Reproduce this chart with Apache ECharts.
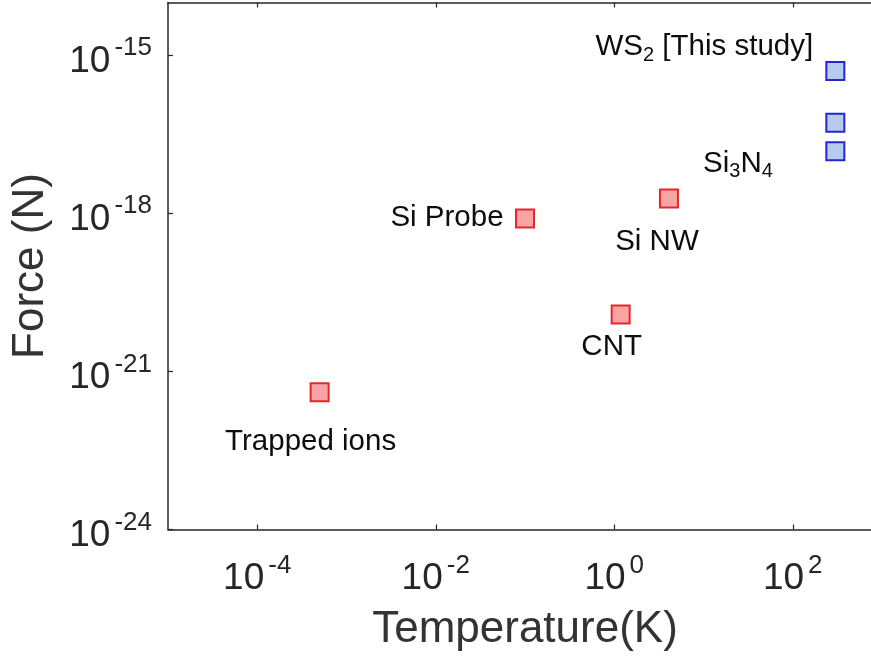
<!DOCTYPE html>
<html>
<head>
<meta charset="utf-8">
<script src="https://cdn.jsdelivr.net/npm/echarts@6/dist/echarts.min.js"></script>
<style>
  html, body { margin: 0; padding: 0; background: #fff; }
  #chart { width: 871px; height: 657px; }
</style>
</head>
<body>
<div id="chart"></div>
<script>
// Reference force sensors: temperature (K) and force (N)
const refNames = ['Trapped ions', 'Si Probe', 'CNT', 'Si NW'];
const refTemperature = [5e-4, 0.1, 1.18, 4.1];
const refForce = [4e-22, 8e-19, 1.2e-20, 1.9e-18];

// WS2 resonators, room temperature
const ws2Temperature = [300, 300, 300];
const ws2Force = [5e-16, 5.2e-17, 1.5e-17];

// Labelled decades (powers of ten) on each axis
const xTickExponents = [-4, -2, 0, 2];
const yTickExponents = [-24, -21, -18, -15];

const FONT = '"Liberation Sans", Arial, Helvetica, sans-serif';
const AXIS_COLOR = '#262626';
const TEXT_COLOR = '#0d0d0d';

// Text annotations placed next to the markers
const annotations = [
  { text: refNames[0], at: [refTemperature[0], refForce[0]], offset: [-9, 49] },
  { text: refNames[1], at: [refTemperature[1], refForce[1]], offset: [-78, -1] },
  { text: refNames[2], at: [refTemperature[2], refForce[2]], offset: [-9, 32] },
  { text: refNames[3], at: [refTemperature[3], refForce[3]], offset: [-12, 43] },
  { text: 'Si{sub|3}N{sub|4}', at: [refTemperature[3], refForce[3]], offset: [69, -35] },
  { text: 'WS{sub|2} [This study]', at: [ws2Temperature[0], ws2Force[0]], offset: [-131, -24] }
];

function exponentOf(v) {
  return Math.round(Math.log10(v));
}

function powerLabel(e) {
  const s = e < 0 ? '-' + (-e) : String(e);
  return '{b|10}{s|' + s + '}';
}

const tickRich = {
  b: { fontSize: 37, lineHeight: 54, verticalAlign: 'bottom', color: AXIS_COLOR, fontFamily: FONT },
  s: { fontSize: 26, lineHeight: 26, verticalAlign: 'top', padding: [9, 0, 0, 4], color: AXIS_COLOR, fontFamily: FONT }
};

const xTickValues = xTickExponents.map(e => Math.pow(10, e));
const yTickValues = yTickExponents.map(e => Math.pow(10, e));

function xAxisBase(position) {
  return {
    type: 'log',
    logBase: 10,
    position: position,
    min: 1e-5,
    max: 1e3,
    interval: 1,
    axisLine: { show: true, onZero: false, lineStyle: { color: AXIS_COLOR, width: 1.5 } },
    axisTick: { show: true, inside: true, length: 5, customValues: xTickValues,
      lineStyle: { color: AXIS_COLOR, width: 1.2 } },
    splitLine: { show: false },
    minorTick: { show: false },
    minorSplitLine: { show: false }
  };
}

const chart = echarts.init(document.getElementById('chart'), null, { renderer: 'canvas' });

const option = {
  backgroundColor: '#ffffff',
  animation: false,
  grid: {
    left: 168,
    top: 2.5,
    right: -11,
    bottom: 127.5,
    containLabel: false,
    outerBoundsMode: 'none'
  },
  xAxis: [
    Object.assign(xAxisBase('bottom'), {
      name: 'Temperature(K)',
      nameLocation: 'middle',
      nameGap: 78,
      nameTextStyle: { fontSize: 44, color: '#333', fontFamily: FONT },
      axisLabel: {
        show: true,
        margin: 14,
        customValues: xTickValues,
        formatter: function (v) {
          const e = exponentOf(v);
          return xTickExponents.indexOf(e) >= 0 ? powerLabel(e) : '';
        },
        rich: tickRich
      }
    }),
    Object.assign(xAxisBase('top'), {
      axisLabel: { show: false }
    })
  ],
  yAxis: {
    type: 'log',
    logBase: 10,
    min: 1e-24,
    max: 1e-14,
    interval: 3,
    name: 'Force (N)',
    nameLocation: 'middle',
    nameGap: 115,
    nameRotate: 90,
    nameTextStyle: { fontSize: 44, color: '#333', fontFamily: FONT },
    axisLine: { show: true, onZero: false, lineStyle: { color: AXIS_COLOR, width: 1.5 } },
    axisTick: { show: true, inside: true, length: 5, customValues: yTickValues,
      lineStyle: { color: AXIS_COLOR, width: 1.2 } },
    axisLabel: {
      show: true,
      margin: 16,
      padding: [0, 0, 4, 0],
      customValues: yTickValues,
      formatter: function (v) {
        const e = exponentOf(v);
        return yTickExponents.indexOf(e) >= 0 ? powerLabel(e) : '';
      },
      rich: tickRich
    },
    splitLine: { show: false },
    minorTick: { show: false }
  },
  series: [
    {
      name: 'Reference',
      type: 'scatter',
      xAxisIndex: 0,
      data: refTemperature.map((t, i) => [t, refForce[i]]),
      symbol: 'rect',
      symbolSize: 18,
      itemStyle: { color: '#f8a4a4', borderColor: '#e6262b', borderWidth: 2, opacity: 1 },
      z: 3
    },
    {
      name: 'WS2',
      type: 'scatter',
      xAxisIndex: 0,
      data: ws2Temperature.map((t, i) => [t, ws2Force[i]]),
      symbol: 'rect',
      symbolSize: 18,
      itemStyle: { color: '#b6cbee', borderColor: '#2626d2', borderWidth: 2, opacity: 1 },
      z: 3
    },
    {
      name: 'Annotations',
      type: 'scatter',
      xAxisIndex: 0,
      silent: true,
      symbolSize: 0,
      itemStyle: { opacity: 1 },
      z: 4,
      data: annotations.map(a => ({
        value: a.at,
        label: {
          show: true,
          position: 'inside',
          align: 'center',
          verticalAlign: 'middle',
          offset: a.offset,
          formatter: a.text,
          fontSize: 29.5,
          lineHeight: 36,
          color: TEXT_COLOR,
          opacity: 1,
          fontFamily: FONT,
          rich: {
            sub: { fontSize: 20, lineHeight: 20, verticalAlign: 'bottom', color: TEXT_COLOR, fontFamily: FONT }
          }
        }
      }))
    }
  ]
};

chart.setOption(option);
</script>
</body>
</html>
